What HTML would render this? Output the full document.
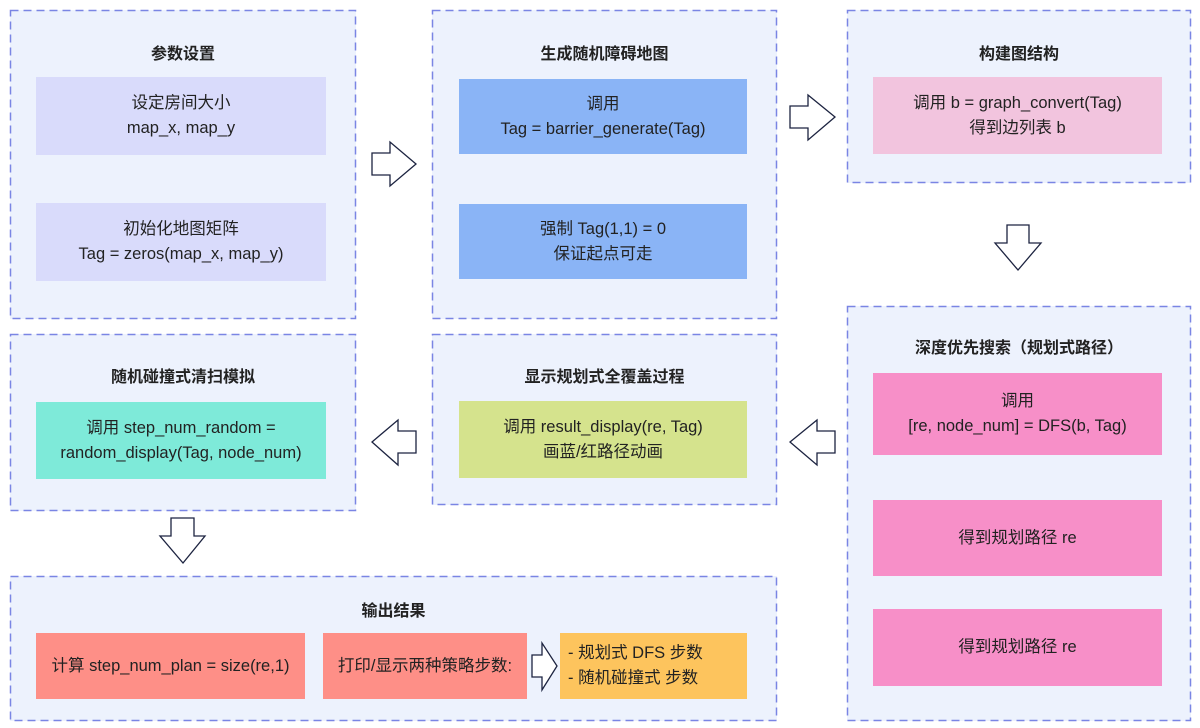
<!DOCTYPE html>
<html><head><meta charset="utf-8"><style>
body{margin:0;width:1200px;height:728px;background:#fff;position:relative;font-family:"Liberation Sans","Noto Sans CJK SC",sans-serif;color:#222;overflow:hidden}
.g{position:absolute;background:#edf2fd}
.t{position:absolute;left:0;right:0;text-align:center;font-weight:bold;font-size:16px}
.b{position:absolute;display:flex;align-items:center;justify-content:center;text-align:center;font-size:16.5px;line-height:25px;white-space:nowrap}
svg{position:absolute;overflow:visible}
</style></head><body>
<div class="g" style="left:10px;top:10px;width:346px;height:309px"><div class="t" style="top:30px">参数设置</div></div>
<div class="g" style="left:432px;top:10px;width:345px;height:309px"><div class="t" style="top:30px">生成随机障碍地图</div></div>
<div class="g" style="left:847px;top:10px;width:344px;height:173px"><div class="t" style="top:30px">构建图结构</div></div>
<div class="g" style="left:847px;top:306px;width:344px;height:415px"><div class="t" style="top:28px">深度优先搜索（规划式路径）</div></div>
<div class="g" style="left:432px;top:334px;width:345px;height:171px"><div class="t" style="top:29px">显示规划式全覆盖过程</div></div>
<div class="g" style="left:10px;top:334px;width:346px;height:177px"><div class="t" style="top:29px">随机碰撞式清扫模拟</div></div>
<div class="g" style="left:10px;top:576px;width:767px;height:145px"><div class="t" style="top:21px">输出结果</div></div>

<svg width="1200" height="728" style="left:0;top:0">
<g fill="none" stroke="#7a85e4" stroke-width="1.5" stroke-dasharray="8 5">
<rect x="10.5" y="10.5" width="345" height="308"/>
<rect x="432.5" y="10.5" width="344" height="308"/>
<rect x="847.5" y="10.5" width="343" height="172"/>
<rect x="847.5" y="306.5" width="343" height="414"/>
<rect x="432.5" y="334.5" width="344" height="170"/>
<rect x="10.5" y="334.5" width="345" height="176"/>
<rect x="10.5" y="576.5" width="766" height="144"/>
</g></svg>

<div class="b" style="left:36px;top:77px;width:290px;height:78px;background:#d9dbfb">设定房间大小<br>map_x, map_y</div>
<div class="b" style="left:36px;top:203px;width:290px;height:78px;background:#d9dbfb">初始化地图矩阵<br>Tag = zeros(map_x, map_y)</div>
<div class="b" style="left:459px;top:79px;width:288px;height:75px;background:#8ab4f6">调用<br>Tag = barrier_generate(Tag)</div>
<div class="b" style="left:459px;top:204px;width:288px;height:75px;background:#8ab4f6">强制 Tag(1,1) = 0<br>保证起点可走</div>
<div class="b" style="left:873px;top:77px;width:289px;height:77px;background:#f2c4de">调用 b = graph_convert(Tag)<br>得到边列表 b</div>
<div class="b" style="left:873px;top:373px;width:289px;height:82px;background:#f78fc8">调用<br>[re, node_num] = DFS(b, Tag)</div>
<div class="b" style="left:873px;top:500px;width:289px;height:76px;background:#f78fc8">得到规划路径 re</div>
<div class="b" style="left:873px;top:609px;width:289px;height:77px;background:#f78fc8">得到规划路径 re</div>
<div class="b" style="left:459px;top:401px;width:288px;height:77px;background:#d5e38d">调用 result_display(re, Tag)<br>画蓝/红路径动画</div>
<div class="b" style="left:36px;top:402px;width:290px;height:77px;background:#7eead9">调用 step_num_random =<br>random_display(Tag, node_num)</div>
<div class="b" style="left:36px;top:633px;width:269px;height:66px;background:#fe8f87">计算 step_num_plan = size(re,1)</div>
<div class="b" style="left:323px;top:633px;width:204px;height:66px;background:#fe8f87">打印/显示两种策略步数:</div>
<div class="b" style="left:560px;top:633px;width:187px;height:66px;background:#fdc45d;justify-content:flex-start;text-align:left;padding-left:8px;box-sizing:border-box">- 规划式 DFS 步数<br>- 随机碰撞式 步数</div>

<svg width="1200" height="728" style="left:0;top:0">
<g fill="#fff" stroke="#1c2340" stroke-width="1.3">
<polygon points="372,153 390,153 390,142 416,164 390,186 390,175 372,175"/>
<polygon points="790,106 808,106 808,95 835,117 808,140 808,128 790,128"/>
<polygon points="1007,225 1029,225 1029,243 1041,243 1018,270 995,243 1007,243"/>
<polygon points="835,431 817,431 817,420 790,442 817,465 817,453 835,453"/>
<polygon points="416,431 398,431 398,420 372,442 398,465 398,453 416,453"/>
<polygon points="171,518 194,518 194,536 205,536 183,563 160,536 171,536"/>
<polygon points="532,655 542,655 542,643 557,666 542,690 542,677 532,677"/>
</g></svg>
</body></html>
